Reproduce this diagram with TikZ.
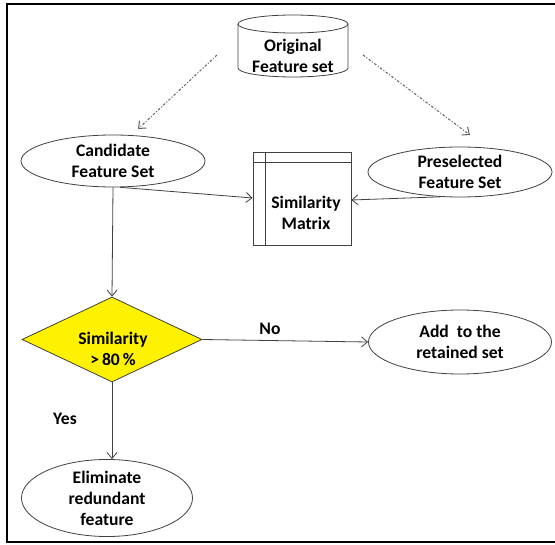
\documentclass[tikz,border=0pt]{standalone}
\usepackage{fontspec}
\setmainfont{Carlito}
\usetikzlibrary{shapes.geometric,arrows.meta,calc}
\definecolor{edge}{HTML}{404040}
\definecolor{dashc}{HTML}{606060}
\begin{document}
\begin{tikzpicture}[x=1pt,y=-1pt,
  lbl/.style={font=\bfseries\fontsize{17.6}{21}\selectfont, align=center, text=black},
  ell/.style={ellipse, draw=edge, line width=0.8pt, inner sep=0pt},
  conn/.style={draw=edge, line width=0.8pt, -{Straight Barb[length=6pt,width=10pt]}},
  dconn/.style={draw=dashc, line width=1pt, dash pattern=on 2.5pt off 1.8pt on 1pt off 1.8pt, -{Straight Barb[length=6pt,width=10pt]}}]
\useasboundingbox (0,0) rectangle (555,545);
\draw[black, line width=1.3pt] (556,4) -- (7,4) -- (7,542) -- (556,542);

% cylinder
\draw[edge, line width=0.8pt] (238,24) -- (238,68) arc[start angle=180, end angle=0, x radius=55, y radius=9] -- (348,24);
\draw[edge, line width=0.8pt] (293,24) ellipse[x radius=55, y radius=9];
\node[lbl] (orig) at (293,56) {Original\\Feature set};
\coordinate (origL) at (217,55);
\coordinate (origR) at (363,55);

% ellipses
\node[ell, lbl, minimum width=184pt, minimum height=52pt] (cand) at (113,161) {Candidate\\Feature Set};
\node[ell, lbl, minimum width=184pt, minimum height=50pt] (pre) at (460,172) {Preselected\\Feature Set};
\node[ell, lbl, minimum width=183pt, minimum height=64pt] (add) at (460,342) {Add~ to the\\retained set};
\node[ell, lbl, minimum width=171pt, minimum height=72pt] (elim) at (107,498) {Eliminate\\redundant\\feature};

% matrix
\node[draw=edge, line width=0.8pt, minimum width=98pt, minimum height=93pt, inner sep=0pt] (mat) at (302,198.5) {};
\draw[edge, line width=0.8pt] ([xshift=13pt]mat.north west) -- ([xshift=13pt]mat.south west);
\draw[edge, line width=0.8pt] ([yshift=-11pt]mat.north west) -- ([yshift=-11pt]mat.north east);
\node[lbl] (mattxt) at (306,213) {Similarity\\Matrix};

% diamond
\node[diamond, draw=edge, line width=0.8pt, fill=yellow, aspect=2, minimum width=180pt, minimum height=85pt, inner sep=0pt] (dia) at (112,339.5) {};
\node[lbl] (diatxt) at (113,349) {Similarity\\{>}\,80\,\%};

% connectors
\draw[dconn] (origL) -- (138,129);
\draw[dconn] (origR) -- (470,135);
\draw[conn] (cand.south) -- (dia.north);
\draw[conn] (cand.-75) -- (mat.west |- 0,198);
\draw[conn] (pre.-128) -- (mat.east |- 0,200);
\draw[conn] (dia.east) -- (add.west);
\draw[conn] (dia.south) -- (dia.south |- elim.north);

\node[lbl] (no) at (270,329) {No};
\node[lbl] (yes) at (65,419) {Yes};
\end{tikzpicture}
\end{document}
